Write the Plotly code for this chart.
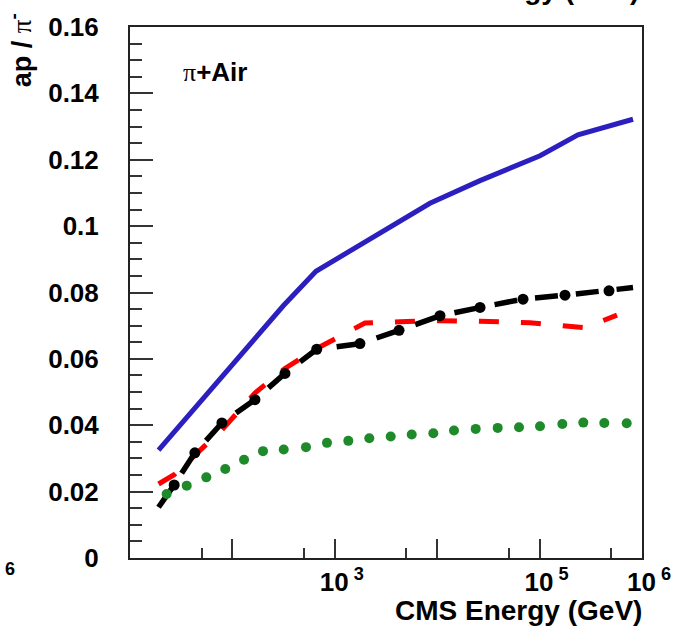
import plotly.graph_objects as go

# Antiproton / pi- ratio in pi + Air collisions versus CMS energy (GeV)
blue_energy = [19, 119, 314, 655, 2210, 8500, 26200, 101000, 237000, 817000]
blue_ratio = [0.0325, 0.0611, 0.0760, 0.0864, 0.0961, 0.1069, 0.1137, 0.1212, 0.1275, 0.1322]

red_energy = [19, 27, 43, 79, 166, 326, 666, 1970, 4330, 10650, 26200, 80600, 278000, 570000]
red_ratio = [0.0223, 0.0251, 0.0310, 0.0386, 0.0497, 0.0571, 0.0631, 0.0708, 0.0712, 0.0715,
             0.0713, 0.0709, 0.0694, 0.0732]

black_energy = [19, 27, 43, 79, 166, 326, 666, 1760, 4240, 10650, 26200, 68900, 177000,
                476000, 817000]
black_ratio = [0.0153, 0.0220, 0.0317, 0.0407, 0.0477, 0.0556, 0.0629, 0.0646, 0.0686, 0.0730,
               0.0755, 0.0780, 0.0792, 0.0805, 0.0815]

green_energy = [22.8, 35.8, 55.6, 85.2, 130, 199, 317, 523, 839, 1355, 2172, 3515, 5636, 9162,
                14590, 23770, 38980, 62920, 100900, 166700, 267200, 428300, 708900]
green_ratio = [0.0193, 0.0218, 0.0243, 0.0268, 0.0296, 0.0322, 0.0327, 0.0334, 0.0347, 0.0353,
               0.0361, 0.0366, 0.0372, 0.0376, 0.0384, 0.0389, 0.0392, 0.0394, 0.0397, 0.0404,
               0.0408, 0.0407, 0.0406]

y_tickvals = [0, 0.02, 0.04, 0.06, 0.08, 0.1, 0.12, 0.14, 0.16]
y_ticktext = ["0", "0.02", "0.04", "0.06", "0.08", "0.1", "0.12", "0.14", "0.16"]
x_tickvals = [10, 100, 1000, 10000, 100000, 1000000]
x_ticktext = ["", "", "10<sup> 3</sup>", "", "10<sup> 5</sup>", "10<sup> 6</sup>"]
x_minorvals = [50, 500, 5000, 50000, 500000]

BOLD = "Liberation Sans"
PI = "<span style=\"font-family:'Liberation Serif';font-weight:normal\">π</span>"

# black markers only on interior points of the dash-dot curve
black_sizes = [0] + [11] * (len(black_energy) - 2) + [0]

fig = go.Figure()
fig.add_trace(go.Scatter(x=blue_energy, y=blue_ratio, mode="lines",
                         line=dict(color="#2c1fbf", width=5), showlegend=False))
fig.add_trace(go.Scatter(x=red_energy, y=red_ratio, mode="lines",
                         line=dict(color="#ff0000", width=5, dash="20px,22px"),
                         showlegend=False))
fig.add_trace(go.Scatter(x=black_energy, y=black_ratio, mode="lines+markers",
                         line=dict(color="#000000", width=5.5, dash="23px,18px"),
                         marker=dict(color="#000000", size=black_sizes,
                                     line=dict(width=0, color="#000000"), opacity=1),
                         showlegend=False))
fig.add_trace(go.Scatter(x=green_energy, y=green_ratio, mode="markers",
                         marker=dict(color="#1f8a2a", size=10, line=dict(width=0)),
                         showlegend=False))

fig.update_layout(
    width=689, height=636, autosize=False,
    margin=dict(l=130, r=47, t=22, b=78),
    paper_bgcolor="white", plot_bgcolor="white",
    font=dict(family=BOLD, color="black"),
)

fig.update_xaxes(
    type="log", range=[1, 6],
    showline=True, linecolor="#222", linewidth=2, mirror=True,
    showgrid=False, zeroline=False,
    ticks="inside", ticklen=19, tickwidth=1.5, tickcolor="#333",
    tickmode="array", tickvals=x_tickvals, ticktext=x_ticktext,
    tickfont=dict(family=BOLD, size=26, weight="bold"),
    ticklabelstandoff=0, ticklabelshift=7,
    minor=dict(tickmode="array", tickvals=x_minorvals, ticks="inside",
               ticklen=10, tickwidth=1.5, tickcolor="#333", showgrid=False),
)
fig.update_yaxes(
    range=[0, 0.16],
    showline=True, linecolor="#222", linewidth=2, mirror=True,
    showgrid=False, zeroline=False,
    ticks="inside", ticklen=23, tickwidth=1.5, tickcolor="#333",
    tickmode="array", tickvals=y_tickvals, ticktext=y_ticktext,
    tickfont=dict(family=BOLD, size=26, weight="bold"),
    ticklabelstandoff=24,
    minor=dict(dtick=0.005, ticks="inside", ticklen=12, tickwidth=1.5,
               tickcolor="#333", showgrid=False),
)

def px_x(p):
    return (p - 130) / 512.0

def px_y(p):
    return (558 - p) / 536.0

title_font = dict(family=BOLD, size=28, weight="bold", color="black")

# x-axis title, right aligned at the end of the axis
fig.add_annotation(text="CMS Energy (GeV)", xref="paper", yref="paper",
                   x=px_x(644), y=px_y(611), xanchor="right", yanchor="middle",
                   showarrow=False, font=title_font)
# axis title of the panel above, cut by the page edge
fig.add_annotation(text="CMS Energy (GeV)", xref="paper", yref="paper",
                   x=px_x(641), y=px_y(-16), xanchor="right", yanchor="middle",
                   showarrow=False, font=title_font)
# exponent of the neighbouring panel's last label
fig.add_annotation(text="6", xref="paper", yref="paper",
                   x=px_x(10), y=px_y(569), xanchor="center", yanchor="middle",
                   showarrow=False, font=dict(family=BOLD, size=18, weight="bold"))
# y-axis title
fig.add_annotation(text="ap / " + PI + "<sup>-</sup>", xref="paper", yref="paper",
                   x=px_x(20), y=px_y(6), xanchor="center", yanchor="top",
                   textangle=-90, showarrow=False,
                   font=dict(family=BOLD, size=27, weight="bold"))
# reaction label
fig.add_annotation(text=PI + "+Air", xref="paper", yref="paper",
                   x=px_x(181), y=px_y(67), xanchor="left", yanchor="middle",
                   showarrow=False, font=dict(family=BOLD, size=26, weight="bold"))

fig.write_html("out.html")
